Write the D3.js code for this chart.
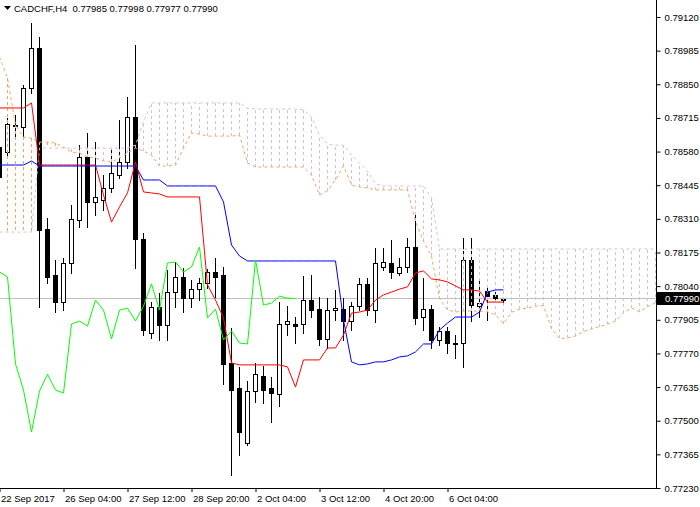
<!DOCTYPE html>
<html><head><meta charset="utf-8">
<script src="https://cdn.jsdelivr.net/npm/d3@7"></script>
<style>
html,body{margin:0;padding:0;background:#fff;}
svg{display:block;}
text{font-family:"Liberation Sans",Arial,sans-serif;font-size:9.5px;fill:#000;}
</style></head><body>
<svg id="c" width="700" height="507"></svg>
<script>
const symbol = "CADCHF,H4";
const lastOHLC = [0.77985, 0.77998, 0.77977, 0.77990];

const opens = [0.78598,0.78578,0.78683,0.78679,0.78835,0.78996,0.78269,0.78085,0.77976,0.78133,
0.78305,0.78558,0.78378,0.78386,0.78434,0.78486,0.78538,0.78719,0.78229,0.77852,
0.77956,0.77884,0.78016,0.78077,0.77992,0.78028,0.78053,0.78097,0.78085,0.77732,
0.77631,0.77411,0.77619,0.77679,0.77631,0.77607,0.77888,0.77888,0.77888,0.77984,
0.77948,0.77828,0.77944,0.77948,0.77900,0.77960,0.78049,0.77944,0.78117,0.78133,
0.78093,0.78117,0.78197,0.77916,0.77948,0.77824,0.77860,0.77812,0.77812,0.78145,
0.77960,0.78020,0.78005,0.77985];
const highs = [0.78626,0.78715,0.78727,0.78847,0.79096,0.79040,0.78313,0.78145,0.78153,0.78366,
0.78606,0.78655,0.78618,0.78486,0.78586,0.78707,0.78799,0.79008,0.78253,0.77976,
0.78012,0.78105,0.78137,0.78113,0.78065,0.78073,0.78109,0.78153,0.78117,0.77872,
0.77716,0.77659,0.77732,0.77720,0.77675,0.77976,0.77960,0.77916,0.78081,0.78085,
0.77996,0.77992,0.78025,0.77992,0.77976,0.78073,0.78073,0.78193,0.78193,0.78225,
0.78153,0.78233,0.78334,0.78073,0.77964,0.77876,0.77876,0.77844,0.78233,0.78233,
0.78065,0.78037,0.78016,0.77998];
const lows = [0.78458,0.78554,0.78638,0.78634,0.78815,0.77956,0.78053,0.77936,0.77944,0.78093,
0.78277,0.78277,0.78325,0.78346,0.78418,0.78474,0.78514,0.78113,0.77844,0.77832,
0.77824,0.77824,0.77956,0.77936,0.77956,0.77984,0.78033,0.77996,0.77647,0.77282,
0.77362,0.77403,0.77575,0.77571,0.77495,0.77559,0.77844,0.77812,0.77852,0.77916,
0.77804,0.77792,0.77904,0.77824,0.77864,0.77944,0.77924,0.77896,0.78105,0.78073,
0.78085,0.78097,0.77888,0.77864,0.77792,0.77804,0.77772,0.77752,0.77716,0.77900,
0.77916,0.77904,0.77984,0.77977];
const closes = [0.78478,0.78691,0.78687,0.78835,0.78996,0.78265,0.78077,0.77976,0.78133,0.78309,
0.78558,0.78378,0.78398,0.78434,0.78494,0.78538,0.78719,0.78229,0.77864,0.77956,
0.77884,0.78016,0.78077,0.77992,0.78028,0.78053,0.78097,0.78077,0.77728,0.77623,
0.77455,0.77619,0.77687,0.77623,0.77611,0.77888,0.77900,0.77880,0.77984,0.77944,
0.77828,0.77944,0.77952,0.77900,0.77960,0.78049,0.77944,0.78133,0.78137,0.78097,
0.78117,0.78197,0.77912,0.77948,0.77824,0.77860,0.77812,0.77808,0.78145,0.77964,
0.77972,0.78000,0.77992,0.77990];

const tenkan = [0.78755,0.78755,0.78755,0.78755,0.78775,
0.78526,0.78526,0.78526,0.78526,0.78526,0.78526,0.78526,0.78526,
0.78406,0.78297,0.78358,0.78414,0.78538,
0.78418,0.78414,0.78410,
0.78398,0.78398,0.78398,0.78398,0.78398,
0.78045,0.77984,0.77912,0.77732,
0.77724,0.77724,0.77724,0.77724,0.77724,0.77724,
0.77716,0.77635,
0.77744,0.77744,0.77744,
0.77792,0.77792,0.77844,0.77932,0.77936,0.77944,0.77984,0.78005,0.78016,0.78028,0.78037,
0.78093,0.78101,0.78069,0.78065,0.78057,0.78041,0.78025,0.78025,0.78020,
0.77976,0.77976,0.77976];
const kijun = [0.78526,0.78526,0.78526,0.78526,0.78542,
0.78522,0.78522,0.78522,0.78522,0.78522,0.78522,0.78522,0.78522,0.78522,0.78522,0.78522,0.78522,0.78522,
0.78466,0.78466,0.78466,
0.78442,0.78442,0.78442,0.78442,0.78442,0.78442,0.78442,
0.78378,0.78205,0.78161,
0.78141,0.78141,0.78141,0.78141,0.78141,0.78141,0.78141,0.78141,0.78141,0.78141,0.78141,0.78141,
0.77904,0.77736,0.77724,0.77728,0.77736,0.77736,0.77744,0.77756,0.77760,0.77776,
0.77808,0.77808,0.77864,0.77892,
0.77916,0.77916,0.77916,0.77936,
0.78016,0.78025,0.78025];
const spanA = [0.78960,0.78875,0.78687,0.78638,0.78634,0.78618,0.78618,0.78614,0.78598,0.78578,
0.78574,0.78558,0.78554,0.78542,0.78538,0.78554,0.78574,0.78594,0.78582,0.78566,
0.78522,0.78522,0.78526,0.78594,0.78655,0.78650,0.78642,0.78642,0.78642,0.78642,
0.78646,0.78534,0.78518,0.78518,0.78518,0.78518,0.78518,0.78518,0.78518,0.78486,
0.78406,0.78422,0.78466,0.78522,0.78446,0.78438,0.78434,0.78426,0.78426,0.78426,
0.78426,0.78426,0.78300,0.78220,0.78160,0.77990,0.77945,0.77936,0.77940,0.77940,
0.77940,0.77936,0.77925,0.77890,0.77935,0.77948,0.77952,0.77960,0.77962,0.77870,
0.77830,0.77832,0.77840,0.77858,0.77868,0.77878,0.77888,0.77900,0.77933,0.77953,
0.77937,0.77958,0.77973];
const spanB = [0.78257,0.78257,0.78257,0.78257,0.78257,
0.78594,0.78594,0.78594,0.78594,0.78594,0.78594,0.78594,0.78594,0.78594,0.78594,0.78594,0.78594,
0.78606,0.78699,
0.78775,0.78775,0.78775,0.78775,0.78775,0.78775,0.78775,0.78775,0.78775,0.78775,0.78775,0.78775,
0.78755,
0.78751,0.78751,0.78751,0.78751,0.78751,0.78751,
0.78747,0.78719,0.78646,0.78610,0.78606,0.78606,0.78566,0.78534,0.78502,0.78450,
0.78442,0.78442,0.78442,0.78442,0.78442,0.78442,
0.78394,
0.78189,0.78189,0.78189,0.78189,0.78189,0.78189,0.78189,0.78189,0.78189,0.78189,
0.78189,0.78189,0.78189,0.78189,0.78189,0.78189,0.78189,0.78189,0.78189,0.78189,
0.78189,0.78189,0.78189,0.78189,0.78189,0.78189,0.78189,0.78189];
const chikouShift = 26;

const priceTicks = [0.77230,0.77365,0.77500,0.77635,0.77770,0.77905,0.78040,0.78175,0.78310,0.78445,0.78580,0.78715,0.78850,0.78985,0.79120];
const timeTickIdx = [0,8,16,24,32,40,48,56];
const timeTickLabels = ["22 Sep 2017","26 Sep 04:00","27 Sep 12:00","28 Sep 20:00","2 Oct 04:00","3 Oct 12:00","4 Oct 20:00","6 Oct 04:00"];

const svg = d3.select("#c");
const plotR = 657, plotB = 488;
const x = d3.scaleLinear().domain([0, 82]).range([-0.5, 655.5]);
const y = d3.scaleLinear().domain([0.77230, 0.79120]).range([488, 17]);

svg.append("defs").append("clipPath").attr("id","clip")
  .append("rect").attr("x",0).attr("y",0).attr("width",plotR).attr("height",plotB);
const plot = svg.append("g").attr("clip-path","url(#clip)");

const lastClose = lastOHLC[3];
const bidY = Math.round(y(lastClose)) - 0.5;
plot.append("line").attr("x1",0).attr("x2",plotR).attr("y1",bidY).attr("y2",bidY)
  .attr("stroke","#c0c0c0").attr("stroke-width",1);

const idx = d3.range(opens.length);
// wicks
plot.append("g").selectAll("line").data(idx).join("line")
  .attr("x1",i=>x(i)).attr("x2",i=>x(i))
  .attr("y1",i=>Math.round(y(highs[i])))
  .attr("y2",i=>Math.round(y(lows[i]))+1)
  .attr("stroke","#000").attr("shape-rendering","crispEdges");
// bodies
plot.append("g").selectAll("path").data(idx).join("path")
  .attr("d", i=>{
    const t = Math.round(y(Math.max(opens[i],closes[i]))) + 0.5;
    const b = Math.round(y(Math.min(opens[i],closes[i]))) + 0.5;
    const x0 = x(i)-2, x1 = x(i)+2;
    return `M${x0},${t}H${x1}V${b}H${x0}Z`;
  })
  .attr("fill", i=> closes[i] >= opens[i] ? "#fff" : "#000")
  .attr("stroke","#000").attr("shape-rendering","crispEdges");

// cloud hatch
const cIdx = d3.range(spanA.length);
plot.append("g").selectAll("line").data(cIdx).join("line")
  .attr("x1",i=>x(i)).attr("x2",i=>x(i))
  .attr("y1",i=>Math.round(y(spanA[i])))
  .attr("y2",i=>Math.round(y(spanB[i])))
  .attr("stroke", i=> spanA[i] >= spanB[i] ? "#F4A460" : "#D8BFD8")
  .attr("stroke-dasharray","3,3").attr("shape-rendering","crispEdges");

const line = d3.line().x((d,i)=>x(i)).y(d=>y(d));
plot.append("path").datum(spanB).attr("d",line).attr("fill","none")
  .attr("stroke","#D8BFD8").attr("stroke-dasharray","3,3");
plot.append("path").datum(spanA).attr("d",line).attr("fill","none")
  .attr("stroke","#F4A460").attr("stroke-dasharray","3,3");
plot.append("path").datum(tenkan).attr("d",line).attr("fill","none").attr("stroke","#ff0000");
plot.append("path").datum(kijun).attr("d",line).attr("fill","none").attr("stroke","#0000ff");
plot.append("path").datum(closes.slice(chikouShift)).attr("d",line).attr("fill","none").attr("stroke","#00ff00");

// frame
svg.append("line").attr("x1",plotR-0.5).attr("x2",plotR-0.5).attr("y1",0).attr("y2",plotB+0.5).attr("stroke","#000");
svg.append("line").attr("x1",0).attr("x2",plotR).attr("y1",plotB+0.5).attr("y2",plotB+0.5).attr("stroke","#000");

// right axis
const ay = svg.append("g").attr("transform",`translate(${plotR-0.5},0)`)
  .call(d3.axisRight(y).tickValues(priceTicks).tickSize(4).tickPadding(4).tickFormat(d3.format(".5f")));
ay.select(".domain").remove();
ay.selectAll("text").style("font-family",'"Liberation Sans",Arial,sans-serif').style("font-size","9.5px").attr("fill","#000");
ay.selectAll("line").attr("stroke","#000");

// bottom axis
const ax = svg.append("g").attr("transform",`translate(0,${plotB})`)
  .call(d3.axisBottom(x).tickValues(timeTickIdx).tickSize(4).tickPadding(3).tickFormat((d,i)=>timeTickLabels[i]));
ax.select(".domain").remove();
ax.selectAll("text").attr("text-anchor","start").attr("dx",1).style("font-family",'"Liberation Sans",Arial,sans-serif').style("font-size","9.5px").attr("fill","#000");
ax.selectAll("line").attr("stroke","#000");

// bid price box
const by = y(lastClose);
svg.append("rect").attr("x",plotR).attr("y",Math.round(by)-7).attr("width",43).attr("height",13).attr("fill","#000");
svg.append("text").attr("x",plotR+8).attr("y",by).attr("dy","0.35em").attr("fill","#fff").style("fill","#fff")
  .text(d3.format(".5f")(lastClose));

// header
svg.append("path").attr("d","M4,6H11L7.5,10Z").attr("fill","#000");
svg.append("text").attr("x",14).attr("y",12).text(symbol + "  " + lastOHLC.map(d3.format(".5f")).join(" "))
  .attr("xml:space","preserve").style("white-space","pre");
</script>
</body></html>
